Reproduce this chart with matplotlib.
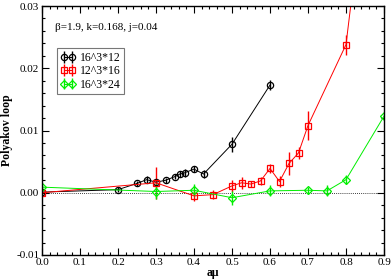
import matplotlib
matplotlib.use("Agg")
import matplotlib.pyplot as plt
from matplotlib.ticker import MultipleLocator

plt.rcParams['font.family'] = ['Liberation Serif', 'DejaVu Serif']
plt.rcParams['mathtext.fontset'] = 'stix'

# 16^3*12
x_a = [0.0, 0.2, 0.25, 0.275, 0.3, 0.325, 0.35, 0.3625, 0.375, 0.4, 0.425, 0.5, 0.6]
y_a = [0.0001, 0.0005, 0.0015, 0.0021, 0.0017, 0.0020, 0.0026, 0.0030, 0.0032, 0.0038, 0.0030, 0.0078, 0.0173]
e_a = [0.0002, 0.0004, 0.0004, 0.0006, 0.0005, 0.0004, 0.0004, 0.0005, 0.0006, 0.0005, 0.0006, 0.0012, 0.0008]

# 12^3*16
x_b = [0.0, 0.3, 0.4, 0.45, 0.5, 0.525, 0.55, 0.575, 0.6, 0.625, 0.65, 0.675, 0.7, 0.8, 0.9]
y_b = [0.0, 0.0016, -0.0005, -0.0003, 0.0011, 0.0016, 0.0014, 0.0019, 0.0039, 0.0018, 0.0047, 0.0064, 0.0108, 0.0238, 0.074]
e_b = [0.0002, 0.0026, 0.0009, 0.0007, 0.0009, 0.0010, 0.0005, 0.0007, 0.0007, 0.0009, 0.0019, 0.0010, 0.0024, 0.0016, 0.002]

# 16^3*24
x_c = [0.0, 0.3, 0.4, 0.5, 0.6, 0.7, 0.75, 0.8, 0.9]
y_c = [0.0009, 0.0002, 0.0004, -0.0008, 0.0003, 0.0004, 0.0003, 0.0021, 0.0123]
e_c = [0.0004, 0.0012, 0.0010, 0.0011, 0.0009, 0.0006, 0.0009, 0.0007, 0.0005]

labels = ['16^3*12', '12^3*16', '16^3*24']
x_ticks = [0.0, 0.1, 0.2, 0.3, 0.4, 0.5, 0.6, 0.7, 0.8, 0.9]
y_ticks = [-0.01, 0.0, 0.01, 0.02, 0.03]

fig = plt.figure(figsize=(3.92, 2.79), dpi=100)
ax = fig.add_axes([42/392, 24/279, 342/392, 249/279])

ax.axhline(0, color='black', lw=0.6, ls=(0, (1, 1.5)), zorder=1)

series = [(x_a, y_a, e_a, 'black', 'o', 4.5), (x_b, y_b, e_b, 'red', 's', 4.5),
          (x_c, y_c, e_c, '#00ee00', 'D', 3.8)]
for (x, y, e, c, m, ms), lab in zip(series, labels):
    ax.errorbar(x, y, yerr=e, color=c, marker=m, ms=ms, mfc='none', mec=c, mew=0.9,
                lw=0.7, elinewidth=1.0, capsize=0, label=lab)

ax.set_xlim(0, 0.9)
ax.set_ylim(-0.01, 0.03)
ax.set_xticks(x_ticks)
ax.set_xticklabels(['%.1f' % v for v in x_ticks])
ax.set_yticks(y_ticks)
ax.set_yticklabels(['%.2f' % v for v in y_ticks])
ax.xaxis.set_minor_locator(MultipleLocator(0.02))
ax.yaxis.set_minor_locator(MultipleLocator(0.002))
ax.tick_params(which='both', direction='in', top=True, right=True, labelsize=8, width=0.8)
ax.tick_params(which='major', length=5, pad=2)
ax.tick_params(which='minor', length=2.5)
for s in ax.spines.values():
    s.set_linewidth(1.0)

ax.set_xlabel('aμ', fontsize=8.5, fontweight='bold', labelpad=0)
ax.set_ylabel('Polyakov loop', fontsize=8.5, fontweight='bold', labelpad=2)

ax.text(0.035, 0.0262, 'β=1.9, k=0.168, j=0.04', fontsize=8)

leg = ax.legend(loc='upper left', bbox_to_anchor=(0.044, 0.83), fontsize=8.5, frameon=True,
                fancybox=False, edgecolor='#555555', handlelength=1.3, handletextpad=0.3,
                borderpad=0.3, labelspacing=0.12, borderaxespad=0, numpoints=2)
leg.get_frame().set_linewidth(0.8)

fig.savefig('out.png', dpi=100)
